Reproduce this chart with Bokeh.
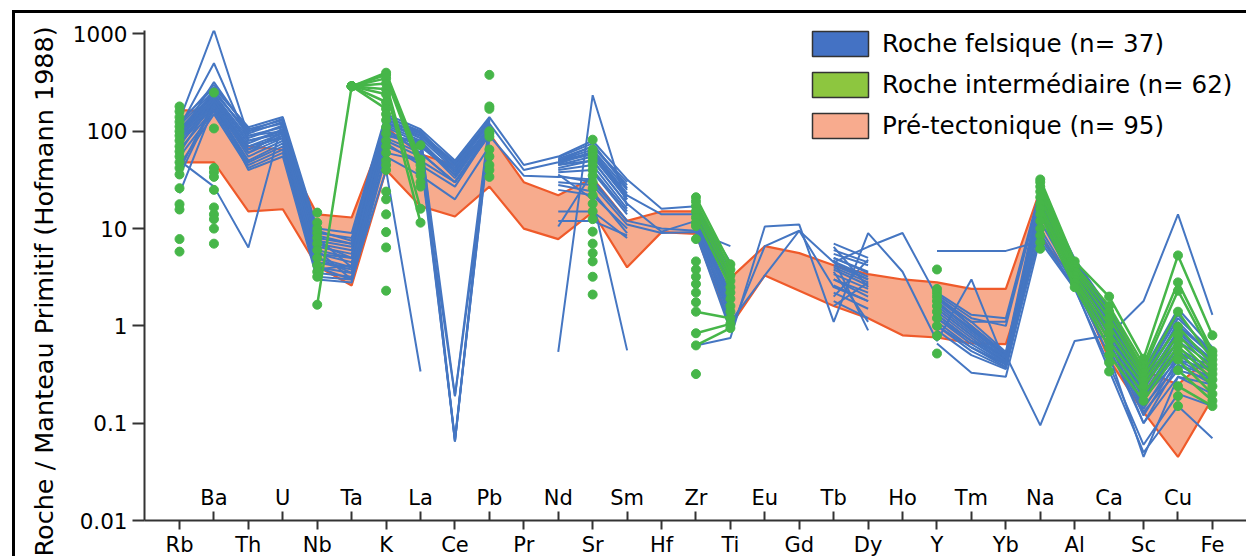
from bokeh.plotting import figure
from bokeh.models import Range1d, FixedTicker, LinearAxis, Legend, LegendItem, Title
from bokeh.embed import file_html
from bokeh.resources import INLINE

X = float("nan")

elements = ["Rb", "Ba", "Th", "U", "Nb", "Ta", "K", "La", "Ce", "Pb", "Pr", "Nd",
            "Sr", "Sm", "Hf", "Zr", "Ti", "Eu", "Gd", "Tb", "Dy", "Ho", "Y", "Tm",
            "Yb", "Na", "Al", "Ca", "Sc", "Cu", "Fe"]

y_ticks = [0.01, 0.1, 1, 10, 100, 1000]
y_tick_labels = ["0.01", "0.1", "1", "10", "100", "1000"]

legend_labels = ["Roche felsique (n= 37)", "Roche intermédiaire (n= 62)", "Pré-tectonique (n= 95)"]
y_title = "Roche / Manteau Primitif (Hofmann 1988)"

# Pre-tectonic envelope (upper / lower bounds)
pre_upper = [165, 160, 70, 65, 14, 13, 110, 58, 45, 95, 30, 22, 33, 12, 15, 15, 3.1,
             6.6, 5.6, 4.2, 3.4, 3.0, 2.8, 2.4, 2.4, 25, 4.5, 1.5, 0.35, 0.25, 0.5]
pre_lower = [48, 48, 15, 15.8, 4.1, 2.6, 40, 17, 13.3, 27, 10, 7.8, 14.8, 4.0, 9.2, 8.8, 1.0,
             3.3, 2.3, 1.6, 1.2, 0.8, 0.76, 0.66, 0.65, 8, 3.0, 0.45, 0.13, 0.045, 0.18]

# Felsic rocks (blue)
fel_01 = [130, 1100, 90, 110, 8, 4, 120, 90, 45, 120, X, 50, 60, 20, X, 15, 2.5, X, X, 5.0, 3.5, X, 1.8, 0.9, 0.5, 20, 4.0, 1.2, 0.2, 0.5, 0.4]
fel_02 = [110, 500, 80, 100, 6, 3, 100, 70, 40, 110, X, 45, 50, 18, X, 14, 2.0, X, X, 4.5, 3.0, X, 1.5, 0.8, 0.45, 22, 3.8, 1.0, 0.18, 0.45, 0.35]
fel_03 = [90, 320, 100, 120, 5, 3.5, 90, 80, 35, 100, X, 40, 45, 16, X, 13, 1.8, X, X, 4.0, 2.8, X, 1.3, 0.7, 0.42, 20, 3.6, 0.9, 0.15, 0.4, 0.3]
fel_04 = [50, 27, 6.4, 130, 4, 3, 60, 50, 30, 90, X, 35, 30, 12, X, 11, 1.2, X, X, 3.0, 2.2, X, 1.0, 0.6, 0.4, 15, 3.2, 0.7, 0.1, 0.3, 0.25]
fel_05 = [125, 280, 110, 140, 10, 9, 150, 105, 50, 140, 45, 55, 80, 32, 16, 17, 4.5, X, X, 7.0, 5.0, X, 2.2, 1.3, 1.2, 25, 4.9, 1.5, 0.35, 1.5, 0.6]
fel_06 = [115, 260, 95, 125, 9, 8, 140, 100, 0.065, 130, X, 52, 70, 28, X, 16, 4.0, X, X, 6.0, 4.5, X, 2.0, 1.1, 1.1, 24, 4.6, 1.4, 0.3, 1.2, 0.55]
fel_07 = [105, 240, 85, 115, 8, 7, 130, 95, 46, 125, X, 50, 65, 25, X, 15, 0.9, 6.6, 9.5, 4.5, 6.5, 9.0, 2.0, 1.0, 0.5, 22, 4.4, 1.3, 0.28, 1.0, 0.5]
fel_08 = [100, 230, 75, 105, 7, 6, 125, 85, 0.19, 120, 40, 48, 60, 22, 14, 14, 3.0, X, X, 5.0, 3.6, X, 1.7, 0.9, 0.48, 21, 4.2, 1.2, 0.25, 0.9, 0.45]
fel_09 = [95, 220, 70, 95, 6.5, 5.5, 115, 80, 0.065, 115, X, 45, 55, 20, X, 13, 2.6, X, X, 4.6, 3.2, X, 1.6, 0.85, 0.46, 19, 4.0, 1.1, 0.22, 0.8, 0.42]
fel_10 = [90, 210, 65, 90, 6, 5, 110, 75, 38, 110, X, 42, 50, 18, 9.3, 12, 2.2, X, X, 4.2, 3.0, X, 5.9, 5.9, 5.9, 7.4, 2.4, 1.0, 0.2, 0.7, 0.4]
fel_11 = [85, 200, 60, 85, 5.5, 4.5, 100, 70, 36, 105, X, 0.54, 235, 17, X, 11, 2.0, X, X, 3.8, 2.6, X, 1.4, 0.75, 0.42, 18, 3.6, 0.9, 0.18, 0.6, 0.35]
fel_12 = [80, 190, 55, 80, 5, 4, 95, 65, 0.065, 100, X, 38, 40, 15, X, 10.5, 1.8, X, X, 3.4, 2.4, X, 1.3, 0.7, 0.5, 0.095, 0.7, 0.8, 1.8, 14, 1.3]
fel_13 = [75, 180, 50, 75, 4.5, 3.8, 85, 60, 30, 95, X, 36, 20, 0.56, X, 10, 1.5, X, X, 3.0, 2.0, X, 1.2, 0.65, 0.4, 16, 3.2, 0.8, 0.14, 0.5, 0.3]
fel_14 = [65, 170, 48, 70, 4, 3.5, 80, 55, 0.07, 90, 35, 34, 32, 12, 10, 9.5, 1.3, X, X, 2.6, 1.8, X, 1.1, 0.6, 0.38, 14, 3.0, 0.7, 0.12, 0.45, 0.28]
fel_15 = [55, 160, 45, 65, 3.5, 3.2, 70, 50, 0.19, 85, X, 30, 28, 11, 9, 9.2, 6.6, X, X, 2.2, 1.5, X, 1.0, 0.55, 0.37, 12, 2.8, 0.6, 0.1, 0.4, 0.25]
fel_16 = [45, 150, 42, 60, 3.2, 3.0, 40, 0.34, X, 80, X, 25, 22, 10, X, 8.8, 0.9, X, X, 1.8, 1.2, X, 0.9, 0.5, 0.36, 10, 2.6, 0.5, 0.045, 0.3, 0.2]
fel_17 = [40, 200, 40, 55, 3.0, 2.8, 55, 35, 20, 70, X, 15, 15, 8, X, 0.63, 0.75, 10.5, 11, 1.1, 9.0, 3.6, 0.7, 3.0, 0.4, 9, 2.4, 0.4, 0.06, 0.2, 0.15]
fel_18 = [23, 180, 60, 100, 7, 5, 105, 60, 30, 100, X, 12, 12, 8.5, X, 9, 1.1, 3.3, 9.5, 2.5, 1.8, X, 0.66, 0.33, 0.3, 8, 2.5, 0.35, 0.05, 0.15, 0.07]
fel_19 = [105, 250, 100, 135, 7.5, 6.5, 135, 90, 42, 135, X, 54, 75, 26, X, 16.5, 3.8, X, X, 6.5, 2.5, X, 2.1, 1.2, 1.0, 23, 4.7, 1.4, 0.32, 1.3, 0.5]
fel_20 = [80, 270, 90, 100, 5.5, 5, 120, 85, 40, 125, X, 48, 58, 21, X, 14.5, 3.2, X, X, 5.5, 4.2, X, 1.9, 1.0, 0.52, 21, 4.3, 1.2, 0.26, 1.1, 0.48]
fel_21 = [70, 230, 80, 95, 9.5, 7.5, 120, 100, 44, 115, X, 46, 62, 23, X, 12.5, 2.8, X, X, 2.0, 4.8, X, 1.7, 0.95, 0.47, 20, 4.1, 1.1, 0.23, 0.85, 0.44]
fel_22 = [60, 210, 70, 85, 3.8, 4.2, 90, 75, 33, 105, X, 10.5, 38, 14, X, 11.5, 1.6, X, X, 3.6, 1.1, X, 1.5, 0.8, 0.43, 17, 3.5, 0.95, 0.17, 0.55, 0.33]
fel_23 = [35, 190, 65, 90, 4.5, 4, 75, 45, 27, 95, X, 28, 24, 9, X, 10, 1.4, X, X, 4.8, 0.9, X, 1.2, 0.7, 0.41, 15, 3.3, 0.8, 0.13, 0.35, 0.28]
fel_24 = [120, 300, 105, 130, 8.5, 7.0, 145, 95, 48, 130, X, 50, 70, 30, X, 15.5, 3.5, X, X, 1.6, 2.8, X, 1.9, 1.1, 0.54, 24, 4.5, 1.3, 0.3, 1.0, 0.52]

felsic = [fel_01, fel_02, fel_03, fel_04, fel_05, fel_06, fel_07, fel_08, fel_09, fel_10, fel_11, fel_12,
          fel_13, fel_14, fel_15, fel_16, fel_17, fel_18, fel_19, fel_20, fel_21, fel_22, fel_23, fel_24]

# Intermediate rocks (green)
int_01 = [180, X, X, X, X, 290, 400, 51, X, 380, X, X, 82, X, X, 21, 4.3, X, X, X, X, X, 3.8, X, X, 32, 4.6, 2.0, 0.46, 5.3, 0.8]
int_02 = [160, X, X, X, X, 290, 380, 45, X, 180, X, X, 65, X, X, 19, 3.8, X, X, X, X, X, 2.4, X, X, 30, 4.2, 1.6, 0.40, 2.8, 0.55]
int_03 = [140, X, X, X, X, 290, 350, 40, X, 170, X, X, 60, X, X, 17, 3.3, X, X, X, X, X, 2.2, X, X, 27, 3.9, 1.4, 0.36, 2.3, 0.50]
int_04 = [125, X, X, X, X, 290, 310, 16, X, 100, X, X, 55, X, X, 15, 2.9, X, X, X, X, X, 2.0, X, X, 24, 3.6, 1.2, 0.33, 1.4, 0.45]
int_05 = [112, X, X, X, X, 290, 270, 11.5, X, 95, X, X, 50, X, X, 13, 2.5, X, X, X, X, X, 1.8, X, X, 21, 3.3, 1.0, 0.30, 0.98, 0.40]
int_06 = [100, X, X, X, X, 290, 240, X, X, 88, X, X, 45, X, X, 11.5, X, X, X, X, X, X, 1.6, X, X, 18, 3.0, 0.85, 0.27, 0.80, 0.36]
int_07 = [90, X, X, X, X, 290, 200, X, X, 65, X, X, 40, X, X, 10.6, X, X, X, X, X, X, 1.4, X, X, 16, 2.8, 0.70, 0.24, 0.70, 0.32]
int_08 = [80, X, X, X, 1.65, 290, 170, X, X, 55, X, X, 35, X, X, 7.8, X, X, X, X, X, X, 1.2, X, X, 14, 2.5, 0.60, 0.20, 0.62, 0.28]
int_09 = [70, X, X, X, 14.6, X, 150, X, X, 45, X, X, 30, X, X, 4.6, X, X, X, X, X, X, 1.0, X, X, 12, X, 0.50, 0.17, 0.55, 0.24]
int_10 = [62, X, X, X, 11.5, X, 130, X, X, 40, X, X, 26, X, X, 3.8, X, X, X, X, X, X, 0.79, X, X, 10, X, 0.42, X, 0.45, 0.20]
int_11 = [55, X, X, X, 10, X, 110, X, X, 34, X, X, 22, X, X, 3.2, X, X, X, X, X, X, 0.52, X, X, 8.5, X, 0.34, X, 0.35, 0.17]
int_12 = [48, X, X, X, 9, X, 95, X, X, X, X, X, 18, X, X, 2.7, X, X, X, X, X, X, X, X, X, 7.2, X, X, X, 0.24, 0.15]
int_13 = [42, X, X, X, 8, X, 80, X, X, X, X, X, 15, X, X, 2.2, X, X, X, X, X, X, X, X, X, 6.2, X, X, X, 0.19, X]
int_14 = [36, X, X, X, 7, X, 70, X, X, X, X, X, 12.5, X, X, 1.75, X, X, X, X, X, X, X, X, X, X, X, X, X, 0.15, X]
int_15 = [26, X, X, X, 6, X, 60, X, X, X, X, X, 9.3, X, X, 1.4, 1.2, X, X, X, X, X, X, X, X, X, X, X, X, X, X]
int_16 = [17.8, X, X, X, 5, X, 50, X, X, X, X, X, 7, X, X, 0.84, 1.05, X, X, X, X, X, X, X, X, X, X, X, X, X, X]
int_17 = [15.7, X, X, X, 4.2, X, 45, X, X, X, X, X, 5.6, X, X, 0.63, 0.95, X, X, X, X, X, X, X, X, X, X, X, X, X, X]
int_18 = [7.8, X, X, X, 3.6, X, 40, X, X, X, X, X, 4.6, X, X, 0.32, X, X, X, X, X, X, X, X, X, X, X, X, X, X, X]
int_19 = [5.8, X, X, X, 3.2, X, 24, X, X, X, X, X, 3.2, X, X, X, X, X, X, X, X, X, X, X, X, X, X, X, X, X, X]
int_20 = [X, 250, X, X, X, X, 20, X, X, X, X, X, 2.1, X, X, X, X, X, X, X, X, X, X, X, X, X, X, X, X, X, X]
int_21 = [X, 107, X, X, X, X, 14, X, X, X, X, X, X, X, X, X, 2.2, X, X, X, X, X, X, X, X, X, X, X, X, X, X]
int_22 = [X, 42, X, X, X, X, 9.2, X, X, X, X, X, X, X, X, X, 1.9, X, X, X, X, X, X, X, X, X, X, X, X, X, X]
int_23 = [X, 38, X, X, X, X, 6.4, X, X, X, X, X, X, X, X, X, 1.6, X, X, X, X, X, X, X, X, X, X, X, X, X, X]
int_24 = [X, 34, X, X, X, X, 2.3, X, X, X, X, X, X, X, X, X, 1.4, X, X, X, X, X, X, X, X, X, X, X, X, X, X]
int_25 = [X, 25, X, X, X, X, X, 72, X, X, X, X, X, X, X, X, X, X, X, X, X, X, X, X, X, X, X, X, X, X, X]
int_26 = [X, 16.5, X, X, X, X, X, 35, X, X, X, X, X, X, X, X, X, X, X, X, X, X, X, X, X, X, X, X, X, X, X]
int_27 = [X, 14, X, X, X, X, X, 30, X, X, X, X, X, X, X, X, X, X, X, X, X, X, X, X, X, X, X, X, X, X, X]
int_28 = [X, 12.5, X, X, X, X, X, 27, X, X, X, X, X, X, X, X, X, X, X, X, X, X, X, X, X, X, X, X, X, X, X]
int_29 = [X, 10, X, X, X, X, X, X, X, X, X, X, X, X, X, X, X, X, X, X, X, X, X, X, X, X, X, X, X, X, X]
int_30 = [X, 7, X, X, X, X, X, X, X, X, X, X, X, X, X, X, X, X, X, X, X, X, X, X, X, X, X, X, X, X, X]

intermediate = [int_01, int_02, int_03, int_04, int_05, int_06, int_07, int_08, int_09, int_10,
                int_11, int_12, int_13, int_14, int_15, int_16, int_17, int_18, int_19, int_20,
                int_21, int_22, int_23, int_24, int_25, int_26, int_27, int_28, int_29, int_30]

BLUE = "#4576C2"
GREEN = "#46B649"
FILL = "#F7AB8D"
EDGE = "#EF5A2A"
FONT = "DejaVu Sans"

xs = list(range(len(elements)))

p = figure(width=1234, height=546, x_range=Range1d(-1.017, 30.99), y_range=Range1d(0.01, 1086),
           y_axis_type="log", output_backend="svg", toolbar_location=None,
           min_border_left=129, min_border_right=3, min_border_top=17, min_border_bottom=36)
# outer black frame of the figure, drawn by the page (left and top edges)
p.styles = {"position": "relative", "left": "12px", "top": "10px",
            "border-left": "3px solid black", "border-top": "3px solid black"}
p.xgrid.visible = False
p.ygrid.visible = False
p.outline_line_color = None
p.background_fill_color = "white"
p.border_fill_color = "white"

# envelope
px = xs + xs[::-1]
py = pre_upper + pre_lower[::-1]
p.patch(px, py, fill_color=FILL, line_color=EDGE, line_width=2.2)

for row in felsic:
    p.line(xs, row, line_color=BLUE, line_width=2)

for row in intermediate:
    p.line(xs, row, line_color=GREEN, line_width=2.5)
    p.scatter(xs, row, size=9, fill_color=GREEN, line_color=GREEN)

# axes
even = [i for i in xs if i % 2 == 0]
odd = [i for i in xs if i % 2 == 1]
xa = p.xaxis[0]
xa.ticker = FixedTicker(ticks=even)
xa.major_label_overrides = {i: elements[i] for i in even}
xa.minor_tick_line_color = None
xa.major_tick_out = 9
xa.major_tick_in = 0
xa.major_label_standoff = 3
xa.axis_line_width = 2
xa.axis_line_color = "#333333"
xa.major_tick_line_width = 2
xa.major_tick_line_color = "#333333"
xa.major_label_text_font = FONT
xa.major_label_text_font_size = "21px"
xa.major_label_text_color = "black"

xb = LinearAxis(ticker=FixedTicker(ticks=odd), fixed_location=0.01,
                major_label_overrides={i: elements[i] for i in odd})
xb.axis_line_color = None
xb.minor_tick_line_color = None
xb.major_tick_out = 9
xb.major_tick_in = 0
xb.major_label_standoff = 2
xb.major_tick_line_width = 2
xb.major_tick_line_color = "#333333"
xb.major_label_text_font = FONT
xb.major_label_text_font_size = "21px"
xb.major_label_text_color = "black"
p.add_layout(xb, "above")

ya = p.yaxis[0]
ya.ticker = FixedTicker(ticks=y_ticks)
ya.major_label_overrides = dict(zip(y_ticks, y_tick_labels))
ya.minor_tick_line_color = None
ya.major_tick_out = 12
ya.major_tick_in = 0
ya.major_label_standoff = 5
ya.axis_line_width = 2
ya.axis_line_color = "#333333"
ya.major_tick_line_width = 2
ya.major_tick_line_color = "#333333"
ya.major_label_text_font = FONT
ya.major_label_text_font_size = "21.5px"
ya.major_label_text_color = "black"

ytitle = Title(text=y_title, align="left", offset=-36, standoff=21,
               text_font=FONT, text_font_size="25.5px", text_font_style="normal",
               text_color="black")
p.add_layout(ytitle, "left")

# legend swatches
sw_f = p.quad(left=[X], right=[X], top=[X], bottom=[X], fill_color="#4472C4", line_color="#333333", line_width=1.5)
sw_i = p.quad(left=[X], right=[X], top=[X], bottom=[X], fill_color="#8DC63F", line_color="#333333", line_width=1.5)
sw_p = p.quad(left=[X], right=[X], top=[X], bottom=[X], fill_color="#F8AB8E", line_color="#333333", line_width=1.5)
legend = Legend(items=[LegendItem(label=legend_labels[0], renderers=[sw_f]),
                       LegendItem(label=legend_labels[1], renderers=[sw_i]),
                       LegendItem(label=legend_labels[2], renderers=[sw_p])],
                location=(661, 379))
legend.glyph_width = 70
legend.glyph_height = 31
legend.spacing = 10
legend.label_standoff = 7
legend.padding = 0
legend.margin = 0
legend.border_line_color = None
legend.background_fill_alpha = 0
legend.label_text_font = FONT
legend.label_text_font_size = "24.6px"
legend.label_text_color = "black"
p.add_layout(legend)

with open("out.html", "w", encoding="utf-8") as f:
    f.write(file_html(p, INLINE))
